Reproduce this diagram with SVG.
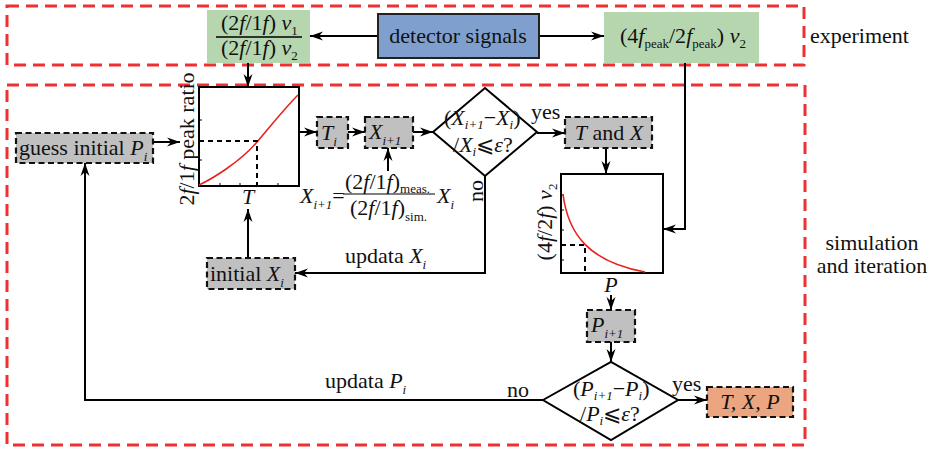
<svg xmlns="http://www.w3.org/2000/svg" width="935" height="449" viewBox="0 0 935 449" font-family="'Liberation Serif', 'Times New Roman', serif">
<defs>
<style>
text{font-family:'Liberation Serif','Times New Roman',serif;font-size:22px;fill:#111}
.it{font-style:italic}
.sub{font-size:13px}
.red{fill:none;stroke:#f03030;stroke-width:3;stroke-dasharray:12 7}
.db{stroke:#111;stroke-width:2.2;stroke-dasharray:6 3.5}
.grey{fill:#c0c0c0}
.ln{fill:none;stroke:#000;stroke-width:2}
.dash{fill:none;stroke:#000;stroke-width:2;stroke-dasharray:5 4}
.curve{fill:none;stroke:#e8231d;stroke-width:1.6}
.plot{fill:#fff;stroke:#000;stroke-width:2}
.arr{marker-end:url(#ah)}
</style>
<marker id="ah" markerWidth="14" markerHeight="10" refX="13" refY="5" orient="auto" markerUnits="userSpaceOnUse">
<path d="M0,0.5 L13,5 L0,9.5 L4,5 Z" fill="#000"/>
</marker>
</defs>

<g id="regions">
<rect class="red" x="7" y="6" width="797" height="59"/>
<rect class="red" x="7" y="85" width="798" height="360"/>
<text x="810" y="43" font-size="23">experiment</text>
<text x="872" y="250" text-anchor="middle" font-size="22">simulation</text>
<text x="872" y="273" text-anchor="middle" font-size="22">and iteration</text>
</g>

<g id="connectors">
<line class="ln arr" x1="378" y1="36" x2="310" y2="36"/>
<line class="ln arr" x1="539" y1="36" x2="604" y2="36"/>
<line class="ln arr" x1="248" y1="63" x2="248" y2="87"/>
<polyline class="ln arr" points="685,63 685,229 663,229"/>
<line class="ln arr" x1="153" y1="142" x2="180" y2="142"/>
<line class="ln arr" x1="299" y1="132" x2="317" y2="132"/>
<line class="ln arr" x1="348" y1="132" x2="365" y2="132"/>
<line class="ln arr" x1="413" y1="132" x2="433" y2="132"/>
<line class="ln arr" x1="537" y1="133" x2="565" y2="133"/>
<line class="ln arr" x1="606" y1="148" x2="606" y2="174"/>
<line class="ln arr" x1="388" y1="171" x2="388" y2="148"/>
<polyline class="ln arr" points="485,176 485,273 295,273"/>
<line class="ln arr" x1="248" y1="258" x2="248" y2="209"/>
<line class="ln arr" x1="611" y1="295" x2="611" y2="310"/>
<line class="ln arr" x1="611" y1="342" x2="611" y2="362"/>
<polyline class="ln arr" points="543,400 85,400 85,163"/>
<line class="ln arr" x1="678" y1="400" x2="707" y2="400"/>
<text x="345" y="263">updata <tspan class="it">X</tspan><tspan class="sub it" dy="6">i</tspan></text>
<text x="325" y="388">updata <tspan class="it">P</tspan><tspan class="sub it" dy="6">i</tspan></text>
<text x="531" y="119" font-size="21">yes</text>
<text transform="translate(483,191) rotate(-90)" text-anchor="middle">no</text>
<text x="507" y="397">no</text>
<text x="672" y="391" font-size="21">yes</text>
</g>

<g id="ratio-top">
<rect x="207" y="10" width="103" height="53" fill="#b6d6b0"/>
<text x="221" y="30" font-size="20">(2<tspan class="it">f</tspan>/1<tspan class="it">f</tspan>) <tspan class="it">ν</tspan><tspan class="sub" dy="5">1</tspan></text>
<line x1="216" y1="37" x2="302" y2="37" stroke="#000" stroke-width="1.3"/>
<text x="221" y="55" font-size="20">(2<tspan class="it">f</tspan>/1<tspan class="it">f</tspan>) <tspan class="it">ν</tspan><tspan class="sub" dy="5">2</tspan></text>
</g>

<g id="detector">
<rect x="378" y="14" width="161" height="44" fill="#7f9fcf" stroke="#222" stroke-width="2"/>
<text x="458" y="43" text-anchor="middle" font-size="23">detector signals</text>
</g>

<g id="peak-ratio">
<rect x="604" y="12" width="155" height="51" fill="#b6d6b0"/>
<text x="620" y="43" font-size="21">(4<tspan class="it">f</tspan><tspan class="sub" dy="5">peak</tspan><tspan dy="-5">/2</tspan><tspan class="it">f</tspan><tspan class="sub" dy="5">peak</tspan><tspan dy="-5">) </tspan><tspan class="it">ν</tspan><tspan class="sub" dy="5">2</tspan></text>
</g>

<g id="guess">
<rect class="grey db" x="16" y="133" width="137" height="30"/>
<text x="19" y="155">guess initial <tspan class="it">P</tspan><tspan class="sub it" dy="6">i</tspan></text>
</g>

<g id="chart1">
<rect class="plot" x="199" y="87" width="100" height="99"/>
<path d="M220,186v-3M240,186v-3M278,186v-3M199,160h3M199,120h3" stroke="#000" stroke-width="1"/>
<path class="curve" d="M199,185 C212,179 240,162 257,142 S285,108 298,95"/>
<path class="dash" d="M199,141 H257 V186"/>
<text transform="translate(194,139) rotate(-90)" text-anchor="middle" font-size="20">2<tspan class="it">f</tspan>/1<tspan class="it">f</tspan> peak ratio</text>
<text x="248" y="204" text-anchor="middle" class="it">T</text>
</g>

<g id="Ti">
<rect class="grey db" x="317" y="117" width="31" height="31"/>
<text x="321" y="140" class="it">T<tspan class="sub" dy="6">i</tspan></text>
</g>

<g id="Xi1">
<rect class="grey db" x="365" y="117" width="48" height="31"/>
<text x="369" y="139" class="it">X<tspan class="sub" dy="6">i+1</tspan></text>
</g>

<g id="formula">
<text x="300" y="203" class="it">X<tspan class="sub" dy="6">i+1</tspan><tspan dy="-6" font-style="normal">=</tspan></text>
<text x="345" y="189" font-size="21">(2<tspan class="it">f</tspan>/1<tspan class="it">f</tspan>)<tspan class="sub" dy="4">meas.</tspan></text>
<line x1="343" y1="194" x2="435" y2="194" stroke="#000" stroke-width="1.2"/>
<text x="350" y="215" font-size="21">(2<tspan class="it">f</tspan>/1<tspan class="it">f</tspan>)<tspan class="sub" dy="6">sim.</tspan></text>
<text x="437" y="203" class="it">X<tspan class="sub" dy="6">i</tspan></text>
</g>

<g id="check-x">
<polygon points="433,132 485,88 537,132 485,176" fill="#fff" stroke="#000" stroke-width="2"/>
<text x="444" y="125" font-size="19">(<tspan class="it">X</tspan><tspan class="sub it" dy="4" font-size="12">i+1</tspan><tspan dy="-4">−</tspan><tspan class="it">X</tspan><tspan class="sub it" dy="4" font-size="12">i</tspan><tspan dy="-4">)</tspan></text>
<text x="453" y="152" font-size="19">/<tspan class="it">X</tspan><tspan class="sub it" dy="4" font-size="12">i</tspan><tspan dy="-4">⩽</tspan><tspan class="it">ε</tspan>?</text>
</g>

<g id="TX">
<rect class="grey db" x="565" y="117" width="87" height="31"/>
<text x="609" y="140" text-anchor="middle"><tspan class="it">T</tspan> and <tspan class="it">X</tspan></text>
</g>

<g id="initialX">
<rect class="grey db" x="207" y="258" width="88" height="31"/>
<text x="210" y="281">initial <tspan class="it">X</tspan><tspan class="sub it" dy="6">i</tspan></text>
</g>

<g id="chart2">
<rect class="plot" x="561" y="174" width="102" height="99"/>
<path d="M561,195h3M561,210h3M561,230h3M561,260h3" stroke="#000" stroke-width="1"/>
<path class="curve" d="M563,194 C568,235 590,262 645,272"/>
<path class="dash" d="M561,245 H585 V273"/>
<text transform="translate(552,222) rotate(-90)" text-anchor="middle" font-size="21">(4<tspan class="it">f</tspan>/2<tspan class="it">f</tspan>) <tspan class="it">ν</tspan><tspan class="sub" dy="5">2</tspan></text>
<text x="611" y="292" text-anchor="middle" class="it">P</text>
</g>

<g id="Pi1">
<rect class="grey db" x="587" y="310" width="48" height="32"/>
<text x="591" y="332" class="it">P<tspan class="sub" dy="6">i+1</tspan></text>
</g>

<g id="check-p">
<polygon points="543,400 611,362 678,400 611,440" fill="#fff" stroke="#000" stroke-width="2"/>
<text x="573" y="396" font-size="19">(<tspan class="it">P</tspan><tspan class="sub it" dy="4" font-size="12">i+1</tspan><tspan dy="-4">−</tspan><tspan class="it">P</tspan><tspan class="sub it" dy="4" font-size="12">i</tspan><tspan dy="-4">)</tspan></text>
<text x="580" y="421" font-size="19">/<tspan class="it">P</tspan><tspan class="sub it" dy="4" font-size="12">i</tspan><tspan dy="-4">⩽</tspan><tspan class="it">ε</tspan>?</text>
</g>

<g id="result">
<rect class="db" x="707" y="387" width="86" height="30" fill="#eba580"/>
<text x="750" y="409" text-anchor="middle" class="it">T, X, P</text>
</g>
</svg>
